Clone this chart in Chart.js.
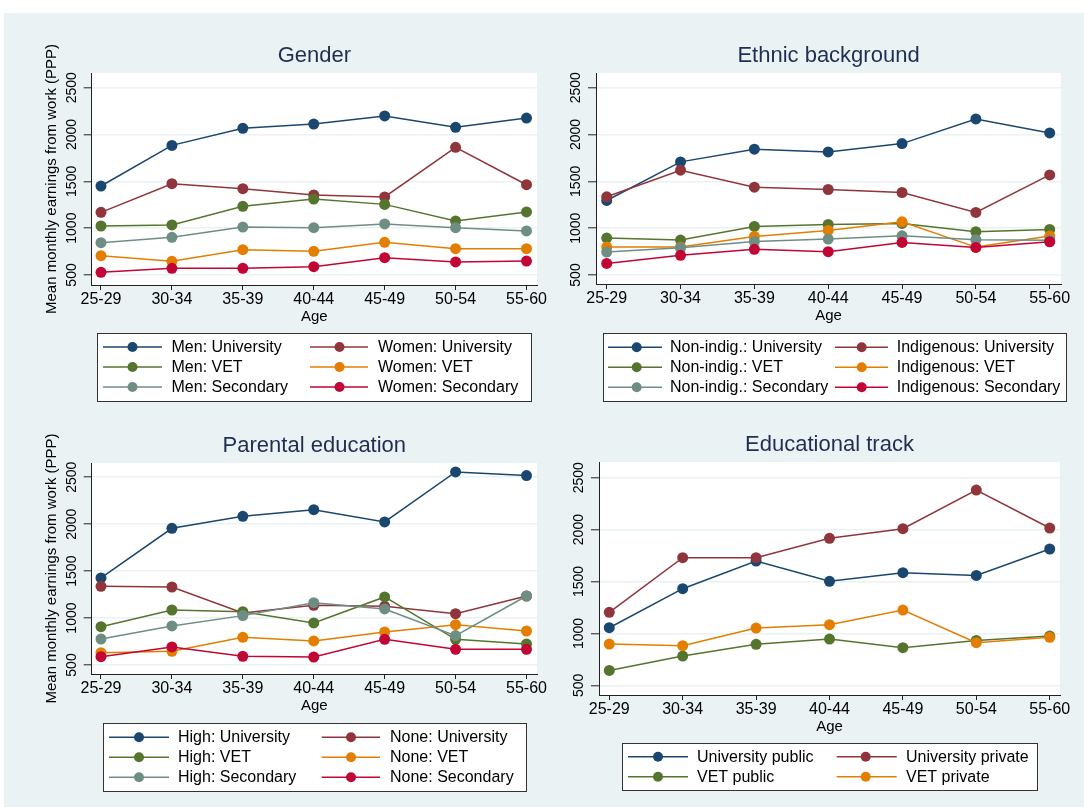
<!DOCTYPE html>
<html><head><meta charset="utf-8">
<script src="https://cdn.jsdelivr.net/npm/chart.js@4.4.1/dist/chart.umd.min.js"></script>
<style>
html,body{margin:0;padding:0;background:#fff;width:1084px;height:807px;overflow:hidden;}
#bg{position:absolute;left:4px;top:13px;width:1080px;height:794px;background:#EAF2F3;}
canvas{position:absolute;left:0;top:0;}
</style></head><body>
<div id="bg"></div>
<canvas id="c1" width="1084" height="807"></canvas>
<canvas id="c2" width="1084" height="807"></canvas>
<canvas id="c3" width="1084" height="807"></canvas>
<canvas id="c4" width="1084" height="807"></canvas>
<script>
// ---------- data ----------
const ages = ['25-29','30-34','35-39','40-44','45-49','50-54','55-60'];
const yTicks = [500, 1000, 1500, 2000, 2500];

const genderNames = ['Men: University','Women: University','Men: VET','Women: VET','Men: Secondary','Women: Secondary'];
const menUniversity   = [1450,1884,2066,2112,2198,2077,2176];
const womenUniversity = [1169,1475,1422,1354,1333,1863,1464];
const menVET          = [1023,1034,1233,1311,1254,1077,1173];
const womenVET        = [706,646,770,753,849,781,781];
const menSecondary    = [845,902,1012,1005,1045,1005,970];
const womenSecondary  = [528,571,571,589,685,639,649];

const ethnicNames = ['Non-indig.: University','Indigenous: University','Non-indig.: VET','Indigenous: VET','Non-indig.: Secondary','Indigenous: Secondary'];
const nonIndigUniversity = [1296,1708,1843,1814,1903,2166,2017];
const indigUniversity    = [1335,1619,1438,1413,1381,1168,1569];
const nonIndigVET        = [894,873,1019,1040,1051,962,987];
const indigVET           = [798,798,912,976,1068,798,916];
const nonIndigSecondary  = [745,791,859,884,919,877,870];
const indigSecondary     = [624,710,774,749,848,795,855];

const parentalNames = ['High: University','None: University','High: VET','None: VET','High: Secondary','None: Secondary'];
const highUniversity = [1427,1956,2084,2155,2024,2557,2518];
const noneUniversity = [1338,1331,1054,1136,1125,1047,1235];
const highVET        = [908,1086,1068,948,1225,773,724];
const noneVET        = [631,646,795,756,852,930,862];
const highSecondary  = [777,916,1026,1164,1097,813,1235];
const noneSecondary  = [589,692,592,585,773,667,667];

const trackNames = ['University public','University private','VET public','VET private'];
const uniPublic  = [1055,1431,1697,1502,1585,1559,1813];
const uniPrivate = [1203,1729,1729,1916,2009,2381,2015];
const vetPublic  = [644,782,895,946,863,933,975];
const vetPrivate = [898,882,1052,1084,1225,911,962];

// ---------- style ----------
const FONT = '"Liberation Sans", Arial, Helvetica, sans-serif';
const COLORS = ['#1a476f','#90353b','#55752f','#e37e00','#6e8e84','#c10534'];
const YTITLE = 'Mean monthly earnings from work (PPP)';

const plotBg = {
  id: 'plotBg',
  beforeDraw(chart) {
    const {ctx, chartArea: a} = chart;
    ctx.save(); ctx.fillStyle = '#ffffff';
    ctx.fillRect(a.left, a.top, a.right - a.left, a.bottom - a.top);
    ctx.restore();
  }
};

function yLabelPlugin() {
  return {
    id: 'yLabels',
    afterDraw(chart) {
      const {ctx, chartArea: a} = chart;
      const ys = chart.scales.y;
      ctx.save();
      ctx.font = '14px ' + FONT; ctx.fillStyle = '#000';
      ctx.textAlign = 'center'; ctx.textBaseline = 'middle';
      ys.ticks.forEach(t => {
        const py = ys.getPixelForValue(t.value);
        ctx.save(); ctx.translate(a.left - 20, py); ctx.rotate(-Math.PI / 2);
        ctx.fillText(String(t.value), 0, 0); ctx.restore();
      });
      ctx.restore();
    }
  };
}

function legendPlugin(leg) {
  return {
    id: 'stataLegend',
    afterDraw(chart) {
      const ctx = chart.ctx;
      ctx.save();
      ctx.fillStyle = '#fff';
      ctx.fillRect(leg.box[0], leg.box[1], leg.box[2] - leg.box[0], leg.box[3] - leg.box[1]);
      ctx.strokeStyle = '#333'; ctx.lineWidth = 1;
      ctx.strokeRect(leg.box[0] + 0.5, leg.box[1] + 0.5, leg.box[2] - leg.box[0], leg.box[3] - leg.box[1]);
      ctx.font = '16px ' + FONT; ctx.textBaseline = 'middle'; ctx.textAlign = 'left';
      chart.data.datasets.forEach((ds, i) => {
        const r = Math.floor(i / 2), c = i % 2;
        const col = leg.cols[c], y = leg.rows[r];
        ctx.strokeStyle = ds.borderColor; ctx.lineWidth = 1.4;
        ctx.beginPath(); ctx.moveTo(col[0], y); ctx.lineTo(col[1], y); ctx.stroke();
        ctx.fillStyle = ds.borderColor;
        ctx.beginPath(); ctx.arc(col[2], y, 5, 0, Math.PI * 2); ctx.fill();
        ctx.fillStyle = '#000';
        ctx.fillText(ds.label, col[3], y + 0.5);
      });
      ctx.restore();
    }
  };
}

function makeChart(id, title, names, series, g, leg) {
  const datasets = series.map((vals, i) => ({
    label: names[i],
    data: vals.map((v, k) => ({x: k, y: v})),
    borderColor: COLORS[i], backgroundColor: COLORS[i],
    pointBackgroundColor: COLORS[i], pointBorderColor: COLORS[i],
    borderWidth: 1.5, pointRadius: 5.5, pointBorderWidth: 0, pointHoverRadius: 5.5,
    order: -i, tension: 0
  }));
  const L = g.yTitle ? 30 : g.left - 25;
  const titleTop = g.titleY - 13.2;
  const xAxisH = 41;
  new Chart(document.getElementById(id), {
    type: 'line',
    data: {datasets},
    plugins: [plotBg, yLabelPlugin(), legendPlugin(leg)],
    options: {
      responsive: false, animation: false, devicePixelRatio: 1,
      layout: {padding: {left: L, top: titleTop, right: 1084 - g.right, bottom: 807 - g.bottom - xAxisH}},
      plugins: {
        legend: {display: false}, tooltip: {enabled: false},
        title: {display: true, text: title, fullSize: false, color: '#1f2e52',
          font: {family: FONT, size: 22, weight: 'normal'},
          padding: {top: 0, bottom: g.top - titleTop - 26.4}}
      },
      scales: {
        x: {
          type: 'linear', min: g.xmin, max: g.xmax,
          afterBuildTicks: ax => { ax.ticks = ages.map((_, k) => ({value: k})); },
          afterFit: ax => { ax.height = xAxisH; },
          ticks: {callback: v => ages[v], color: '#000', font: {family: FONT, size: 16}, padding: 0, maxRotation: 0, autoSkip: false},
          grid: {drawOnChartArea: false, drawTicks: true, tickLength: 5, tickColor: '#222', tickWidth: 1},
          border: {display: true, color: '#222', width: 1},
          title: {display: true, text: 'Age', color: '#000', font: {family: FONT, size: 15}, padding: {top: 0, bottom: 0}}
        },
        y: {
          type: 'linear', min: g.ymin, max: g.ymax,
          afterBuildTicks: ax => { ax.ticks = yTicks.map(v => ({value: v})); },
          afterFit: ax => { ax.width = g.left - L; },
          ticks: {display: false},
          grid: {color: '#EAF2F3', lineWidth: 1.6, drawTicks: true, tickLength: 8, tickColor: '#222', tickWidth: 1},
          border: {display: true, color: '#222', width: 1},
          title: {display: g.yTitle, text: YTITLE, color: '#000', font: {family: FONT, size: 15}, padding: {top: 13, bottom: 0}}
        }
      }
    }
  });
}

makeChart('c1', 'Gender', genderNames,
  [menUniversity, womenUniversity, menVET, womenVET, menSecondary, womenSecondary],
  {left: 91.7, right: 537, top: 73, bottom: 285, titleY: 55.7, xmin: -0.131, xmax: 6.148, ymin: 393, ymax: 2657, yTitle: true},
  {box: [97, 333, 531, 401], rows: [347, 367, 387], cols: [[103, 162, 132.5, 171.5], [310, 368, 339.5, 378]]});

makeChart('c2', 'Ethnic background', ethnicNames,
  [nonIndigUniversity, indigUniversity, nonIndigVET, indigVET, nonIndigSecondary, indigSecondary],
  {left: 596, right: 1061, top: 73, bottom: 284, titleY: 55.7, xmin: -0.145, xmax: 6.153, ymin: 404, ymax: 2657, yTitle: false},
  {box: [603, 333, 1066, 401], rows: [347.3, 367.3, 387.3], cols: [[608, 662, 636.7, 670], [835, 888, 861.7, 896.7]]});

makeChart('c3', 'Parental education', parentalNames,
  [highUniversity, noneUniversity, highVET, noneVET, highSecondary, noneSecondary],
  {left: 91.7, right: 537, top: 463, bottom: 674, titleY: 445.7, xmin: -0.131, xmax: 6.148, ymin: 404, ymax: 2652, yTitle: true},
  {box: [103, 723, 526, 791], rows: [737.3, 757.3, 777.3], cols: [[109, 169, 139, 178], [321.7, 380, 351, 390]]});

makeChart('c4', 'Educational track', trackNames,
  [uniPublic, uniPrivate, vetPublic, vetPrivate],
  {left: 599, right: 1060, top: 462, bottom: 695, titleY: 444.7, xmin: -0.140, xmax: 6.140, ymin: 407, ymax: 2651, yTitle: false},
  {box: [622, 743, 1037, 790], rows: [756.7, 776.7], cols: [[628, 688, 658, 697], [836.7, 896.7, 865.7, 906]]});
</script>
</body></html>
